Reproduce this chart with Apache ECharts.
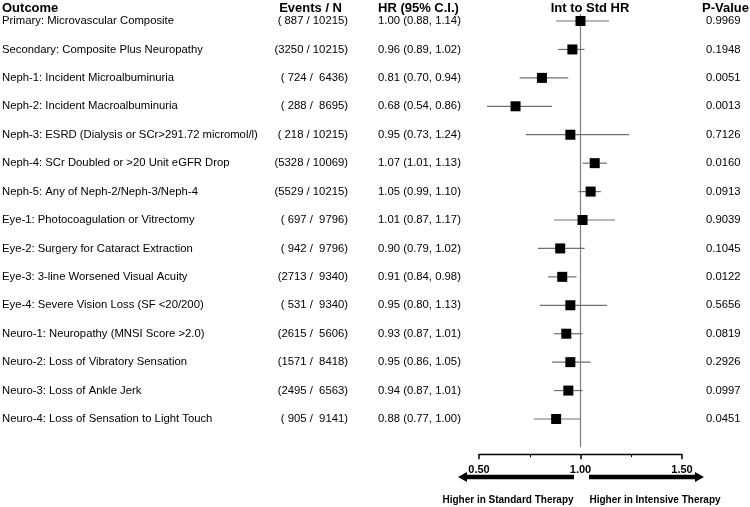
<!DOCTYPE html>
<html><head><meta charset="utf-8">
<script src="https://cdn.jsdelivr.net/npm/echarts@6/dist/echarts.min.js"></script>
<style>html,body{margin:0;padding:0;background:#fff}#c{width:750px;height:507px}</style>
</head><body><div id="c"></div>
<script>
const outcomes = [
  'Primary: Microvascular Composite',
  'Secondary: Composite Plus Neuropathy',
  'Neph-1: Incident Microalbuminuria',
  'Neph-2: Incident Macroalbuminuria',
  'Neph-3: ESRD (Dialysis or SCr>291.72 micromol/l)',
  'Neph-4: SCr Doubled or >20 Unit eGFR Drop',
  'Neph-5: Any of Neph-2/Neph-3/Neph-4',
  'Eye-1: Photocoagulation or Vitrectomy',
  'Eye-2: Surgery for Cataract Extraction',
  'Eye-3: 3-line Worsened Visual Acuity',
  'Eye-4: Severe Vision Loss (SF <20/200)',
  'Neuro-1: Neuropathy (MNSI Score >2.0)',
  'Neuro-2: Loss of Vibratory Sensation',
  'Neuro-3: Loss of Ankle Jerk',
  'Neuro-4: Loss of Sensation to Light Touch'
];
const events = [887, 3250, 724, 288, 218, 5328, 5529, 697, 942, 2713, 531, 2615, 1571, 2495, 905];
const totals = [10215, 10215, 6436, 8695, 10215, 10069, 10215, 9796, 9796, 9340, 9340, 5606, 8418, 6563, 9141];
const hr    = [1.00, 0.96, 0.81, 0.68, 0.95, 1.07, 1.05, 1.01, 0.90, 0.91, 0.95, 0.93, 0.95, 0.94, 0.88];
const lower = [0.88, 0.89, 0.70, 0.54, 0.73, 1.01, 0.99, 0.87, 0.79, 0.84, 0.80, 0.87, 0.86, 0.87, 0.77];
const upper = [1.14, 1.02, 0.94, 0.86, 1.24, 1.13, 1.10, 1.17, 1.02, 0.98, 1.13, 1.01, 1.05, 1.01, 1.00];
const pValues = ['0.9969', '0.1948', '0.0051', '0.0013', '0.7126', '0.0160', '0.0913', '0.9039', '0.1045', '0.0122', '0.5656', '0.0819', '0.2926', '0.0997', '0.0451'];
const xTicks = [0.5, 1.0, 1.5];
const headers = ['Outcome', 'Events / N', 'HR (95% C.I.)', 'Int to Std HR', 'P-Value'];
const directionLabels = ['Higher in Standard Therapy', 'Higher in Intensive Therapy'];
const refValue = 1.0;

const FONT = '"Liberation Sans", Arial, Helvetica, sans-serif';
const BODY = 11.3;
function pad(s, n) { s = String(s); while (s.length < n) s = ' ' + s; return s; }
function eventsText(i) { return '(' + pad(events[i], 4) + ' / ' + pad(totals[i], 5) + ')'; }
function hrText(i) { return hr[i].toFixed(2) + ' (' + lower[i].toFixed(2) + ', ' + upper[i].toFixed(2) + ')'; }

function textAxis(position, align, margin, formatter) {
  return {
    type: 'category', inverse: true, data: outcomes, position: position,
    axisLine: { show: false }, axisTick: { show: false }, splitLine: { show: false },
    axisLabel: { show: true, align: align, margin: margin, formatter: formatter,
      color: '#000', fontFamily: FONT, fontSize: BODY, interval: 0, verticalAlign: 'middle', padding: [2, 0, 0, 0] }
  };
}

const chart = echarts.init(document.getElementById('c'), null, { renderer: 'canvas' });
const option = {
  animation: false,
  backgroundColor: '#fff',
  grid: { left: 479, right: 68, top: 6.8, bottom: 73.8, containLabel: false, outerBoundsMode: 'none' },
  xAxis: {
    type: 'value', min: xTicks[0], max: xTicks[xTicks.length - 1], interval: 0.5,
    position: 'bottom', offset: 21,
    axisLine: { show: true, lineStyle: { color: '#000', width: 1.3 } },
    axisTick: { show: true, length: 5, lineStyle: { color: '#000', width: 1.5 } },
    minorTick: { show: true, splitNumber: 2, length: 3, lineStyle: { color: '#000', width: 1 } },
    splitLine: { show: false },
    axisLabel: { margin: 10, color: '#000', fontFamily: FONT, fontWeight: 'bold', fontSize: 11,
      formatter: v => v.toFixed(2) }
  },
  yAxis: [
    textAxis('left', 'left', 477, v => v),
    textAxis('left', 'right', 131, (v, i) => eventsText(i)),
    textAxis('left', 'left', 101, (v, i) => hrText(i)),
    textAxis('right', 'left', 24, (v, i) => pValues[i])
  ],
  series: [
    {
      type: 'custom', xAxisIndex: 0, yAxisIndex: 0, z: 2,
      data: outcomes.map((o, i) => [lower[i], upper[i], i]),
      encode: { x: [0, 1], y: 2 },
      renderItem: function (params, api) {
        const p1 = api.coord([api.value(0), api.value(2)]);
        const p2 = api.coord([api.value(1), api.value(2)]);
        return { type: 'line', shape: { x1: p1[0], y1: p1[1], x2: p2[0], y2: p2[1] },
          style: { stroke: '#707070', lineWidth: 1.2 } };
      }
    },
    {
      type: 'scatter', xAxisIndex: 0, yAxisIndex: 0, z: 5,
      symbol: 'rect', symbolSize: 10,
      itemStyle: { color: '#000', opacity: 1 },
      emphasis: { disabled: true },
      data: outcomes.map((o, i) => [hr[i], i])
    }
  ]
};
chart.setOption(option);

const xr = chart.convertToPixel({ xAxisIndex: 0 }, refValue);
const yTop = chart.convertToPixel({ yAxisIndex: 0 }, 0) - 7;
const axisY = 507 - 73.8 + 21;
const arrowY = 477;
const hdrStyle = { fill: '#000', fontFamily: FONT, fontWeight: 'bold', fontSize: 13, textVerticalAlign: 'middle' };
const dirStyle = { fill: '#000', fontFamily: FONT, fontWeight: 'bold', fontSize: 10, textVerticalAlign: 'middle', textAlign: 'center' };
chart.setOption({
  graphic: [
    { type: 'line', z: 1, shape: { x1: xr, y1: yTop, x2: xr, y2: axisY - 7 }, style: { stroke: '#808080', lineWidth: 1.2 } },
    { type: 'text', x: 2, y: 8, style: Object.assign({ text: headers[0], textAlign: 'left' }, hdrStyle) },
    { type: 'text', x: 342, y: 8, style: Object.assign({ text: headers[1], textAlign: 'right' }, hdrStyle) },
    { type: 'text', x: 378, y: 8, style: Object.assign({ text: headers[2], textAlign: 'left' }, hdrStyle) },
    { type: 'text', x: 590, y: 8, style: Object.assign({ text: headers[3], textAlign: 'center' }, hdrStyle) },
    { type: 'text', x: 702, y: 8, style: Object.assign({ text: headers[4], textAlign: 'left' }, hdrStyle) },
    // arrows
    { type: 'line', z: -1, shape: { x1: 465, y1: arrowY, x2: 574, y2: arrowY }, style: { stroke: '#000', lineWidth: 4.5 } },
    { type: 'polygon', z: -1, shape: { points: [[458, arrowY], [467, arrowY - 5], [467, arrowY + 5]] }, style: { fill: '#000' } },
    { type: 'line', z: -1, shape: { x1: 589, y1: arrowY, x2: 697, y2: arrowY }, style: { stroke: '#000', lineWidth: 4.5 } },
    { type: 'polygon', z: -1, shape: { points: [[704, arrowY], [695, arrowY - 5], [695, arrowY + 5]] }, style: { fill: '#000' } },
    { type: 'text', x: 508, y: 500, style: Object.assign({ text: directionLabels[0] }, dirStyle) },
    { type: 'text', x: 655, y: 500, style: Object.assign({ text: directionLabels[1] }, dirStyle) }
  ]
});
</script>
</body></html>
